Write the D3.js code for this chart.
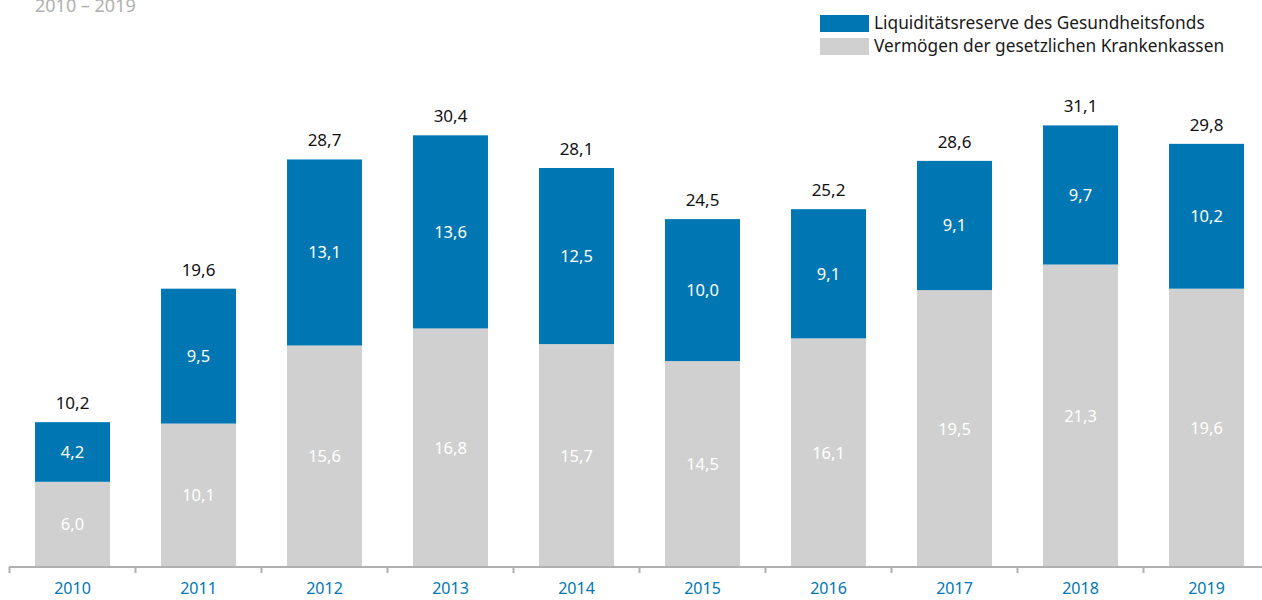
<!DOCTYPE html>
<html>
<head>
<meta charset="utf-8">
<script src="https://cdn.jsdelivr.net/npm/d3@7"></script>
<style>
  body { margin: 0; background: #fff; }
  svg { display: block; font-family: "Noto Sans", sans-serif; }
</style>
</head>
<body>
<svg width="1262" height="600"></svg>
<script>
var years = ["2010", "2011", "2012", "2013", "2014", "2015", "2016", "2017", "2018", "2019"];
var vermoegen = [6.0, 10.1, 15.6, 16.8, 15.7, 14.5, 16.1, 19.5, 21.3, 19.6];
var reserve = [4.2, 9.5, 13.1, 13.6, 12.5, 10.0, 9.1, 9.1, 9.7, 10.2];
var totals = [10.2, 19.6, 28.7, 30.4, 28.1, 24.5, 25.2, 28.6, 31.1, 29.8];
var seriesNames = ["Liquiditätsreserve des Gesundheitsfonds", "Vermögen der gesetzlichen Krankenkassen"];

var blue = "#0077b2", grey = "#d0d0d0";
var fmt = function(v) { return v.toFixed(1).replace(".", ","); };

var svg = d3.select("svg");

var x = d3.scaleBand().domain(years).range([9.5, 1269.5]).paddingInner(0.405).paddingOuter(0.2025);
var y = d3.scaleLinear().domain([0, 10]).range([567, 425]);

// subtitle (cut off at top, as in the original)
svg.append("text").attr("x", 35).attr("y", 12)
    .attr("fill", "#b0b0b0").attr("font-size", 18)
    .text("2010 – 2019");

// legend
var legend = svg.append("g");
[blue, grey].forEach(function(c, i) {
    legend.append("rect").attr("x", 820).attr("y", 15 + i * 23).attr("width", 49).attr("height", 17).attr("fill", c);
    legend.append("text").attr("x", 874).attr("y", 29 + i * 23)
        .attr("font-size", 17.3).attr("fill", "#1a1a1a").text(seriesNames[i]);
});

var g = svg.append("g");

var bars = g.selectAll(".bar").data(years).enter().append("g").attr("class", "bar");

bars.append("rect")
    .attr("x", function(d) { return x(d); })
    .attr("width", x.bandwidth())
    .attr("y", function(d, i) { return y(vermoegen[i]); })
    .attr("height", function(d, i) { return y(0) - y(vermoegen[i]); })
    .attr("fill", grey);

bars.append("rect")
    .attr("x", function(d) { return x(d); })
    .attr("width", x.bandwidth())
    .attr("y", function(d, i) { return y(totals[i]); })
    .attr("height", function(d, i) { return y(vermoegen[i]) - y(totals[i]); })
    .attr("fill", blue);

bars.append("text")
    .attr("x", function(d) { return x(d) + x.bandwidth() / 2; })
    .attr("y", function(d, i) { return (y(0) + y(vermoegen[i])) / 2 + 6; })
    .attr("text-anchor", "middle").attr("font-size", 16.5).attr("fill", "#fff")
    .text(function(d, i) { return fmt(vermoegen[i]); });

bars.append("text")
    .attr("x", function(d) { return x(d) + x.bandwidth() / 2; })
    .attr("y", function(d, i) { return (y(vermoegen[i]) + y(totals[i])) / 2 + 6; })
    .attr("text-anchor", "middle").attr("font-size", 16.5).attr("fill", "#fff")
    .text(function(d, i) { return fmt(reserve[i]); });

bars.append("text")
    .attr("x", function(d) { return x(d) + x.bandwidth() / 2; })
    .attr("y", function(d, i) { return y(totals[i]) - 13; })
    .attr("text-anchor", "middle").attr("font-size", 17).attr("fill", "#111")
    .text(function(d, i) { return fmt(totals[i]); });

// x axis
var axis = svg.append("g");
axis.append("line").attr("x1", 9).attr("x2", 1262).attr("y1", 567).attr("y2", 567)
    .attr("stroke", "#b0b0b0").attr("stroke-width", 2);
axis.selectAll(".tick").data(years).enter().append("line")
    .attr("x1", function(d) { return x(d) - x.step() * x.paddingOuter(); })
    .attr("x2", function(d) { return x(d) - x.step() * x.paddingOuter(); })
    .attr("y1", 567).attr("y2", 573)
    .attr("stroke", "#b0b0b0").attr("stroke-width", 2);
axis.selectAll(".lbl").data(years).enter().append("text")
    .attr("x", function(d) { return x(d) + x.bandwidth() / 2; })
    .attr("y", 594)
    .attr("text-anchor", "middle").attr("font-size", 16).attr("fill", blue)
    .text(function(d) { return d; });
</script>
</body>
</html>
